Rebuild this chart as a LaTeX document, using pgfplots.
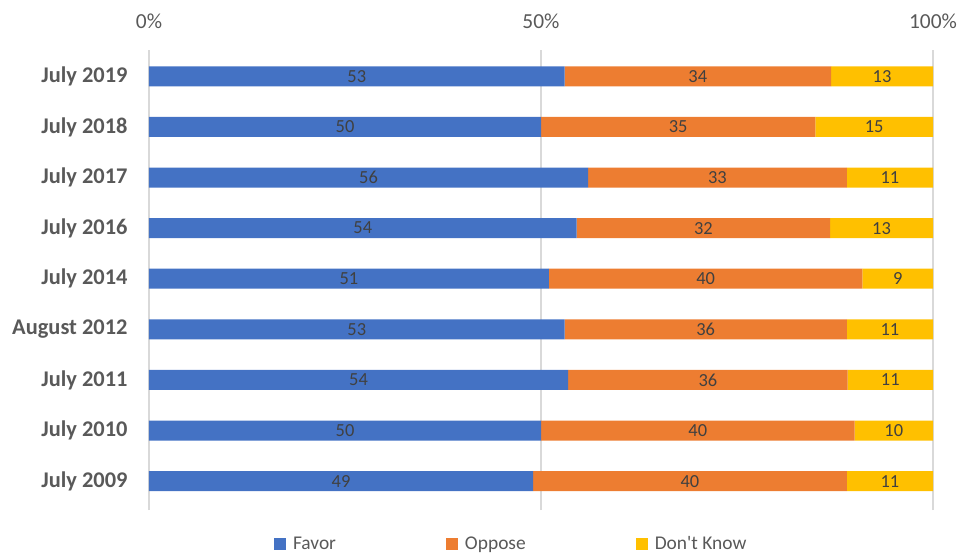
\documentclass[border=0pt]{standalone}
\usepackage{fontspec}
\setmainfont{Carlito}
\usepackage{pgfplots}
\pgfplotsset{compat=1.18}
\usepackage{pgfplotstable}
\definecolor{cFavor}{HTML}{4472C4}
\definecolor{cOppose}{HTML}{ED7D31}
\definecolor{cDK}{HTML}{FFC000}
\definecolor{tickgray}{HTML}{595959}
\definecolor{labgray}{HTML}{404040}
\definecolor{gridgray}{HTML}{D9D9D9}

% y: 0 = July 2009 ... 8 = July 2019; x = share of row total (100% stacked); lab = shown value
\pgfplotstableread{
y x lab
8 53 53
7 50 50
6 56 56
5 54.545 54
4 51 51
3 53 53
2 53.465 54
1 50 50
0 49 49
}\favor
\pgfplotstableread{
y x lab
8 34 34
7 35 35
6 33 33
5 32.323 32
4 40 40
3 36 36
2 35.644 36
1 40 40
0 40 40
}\oppose
\pgfplotstableread{
y x lab
8 13 13
7 15 15
6 11 11
5 13.131 13
4 9 9
3 11 11
2 10.891 11
1 10 10
0 11 11
}\dknow

\begin{document}
\begin{tikzpicture}
\begin{axis}[
  name=ax,
  /pgf/number format/assume math mode=true,
  xbar stacked,
  bar width=20bp,
  width=784bp, height=460bp, scale only axis,
  xmin=0, xmax=100, ymin=-0.57, ymax=8.52,
  xtick={0,50,100}, xticklabels={0\%,50\%,100\%},
  xticklabel pos=upper,
  ytick={0,...,8},
  yticklabels={July 2009,July 2010,July 2011,August 2012,July 2014,July 2016,July 2017,July 2018,July 2019},
  major tick length=0,
  axis line style={draw=none},
  xmajorgrids,
  grid style={draw=gridgray, line width=1.5bp},
  x tick label style={font=\fontsize{21.5}{24}\selectfont, text=tickgray, yshift=18bp},
  y tick label style={font=\bfseries\fontsize{22.5}{26}\selectfont, text=tickgray, xshift=-18bp},
  nodes near coords,
  point meta=explicit,
  every node near coord/.append style={anchor=center, font=\fontsize{18.5}{20}\selectfont, text=labgray},
  legend columns=3,
  legend style={at={(0.462,0)}, anchor=center, yshift=-34bp, draw=none,
    font=\fontsize{19.5}{22}\selectfont, text=tickgray,
    /tikz/every even column/.append style={column sep=108bp}},
  legend image code/.code={\draw[#1, draw=none] (0bp,-6bp) rectangle (12bp,6bp); \path (17bp,0bp);},
]
\addplot[fill=cFavor, draw=none] table[x=x, y=y, meta=lab] {\favor};
\addplot[fill=cOppose, draw=none] table[x=x, y=y, meta=lab] {\oppose};
\addplot[fill=cDK, draw=none] table[x=x, y=y, meta=lab] {\dknow};
\legend{Favor, Oppose, Don\textquotesingle t Know}
\end{axis}
\pgfresetboundingbox
\path ([shift={(-149bp,-44bp)}]ax.south west) rectangle ([shift={(25bp,50bp)}]ax.north east);
\end{tikzpicture}
\end{document}
